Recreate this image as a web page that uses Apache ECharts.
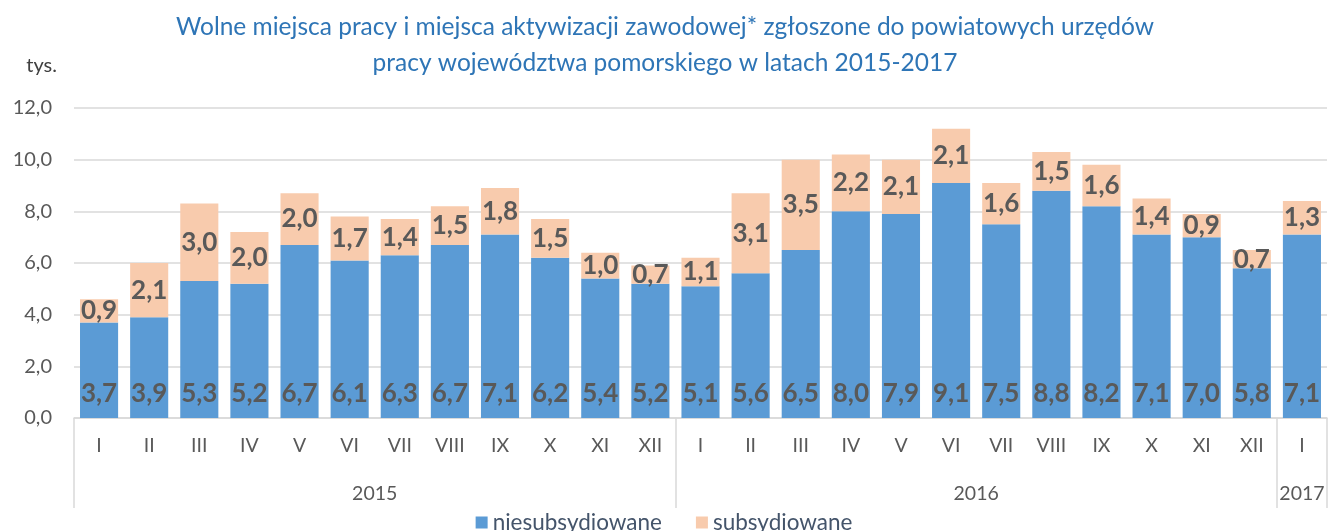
<!DOCTYPE html>
<html>
<head>
<meta charset="utf-8">
<script src="https://cdn.jsdelivr.net/npm/echarts@6/dist/echarts.min.js"></script>
<style>
  html, body { margin: 0; padding: 0; background: #fff; }
  #chart { width: 1328px; height: 531px; }
</style>
</head>
<body>
<div id="chart"></div>
<script>
// months across 2015-2017
const months = ['I','II','III','IV','V','VI','VII','VIII','IX','X','XI','XII',
                'I','II','III','IV','V','VI','VII','VIII','IX','X','XI','XII',
                'I'];
const years = ['2015', '2016', '2017'];
const niesubsydiowane = [3.7,3.9,5.3,5.2,6.7,6.1,6.3,6.7,7.1,6.2,5.4,5.2,
                         5.1,5.6,6.5,8.0,7.9,9.1,7.5,8.8,8.2,7.1,7.0,5.8,
                         7.1];
const subsydiowane = [0.9,2.1,3.0,2.0,2.0,1.7,1.4,1.5,1.8,1.5,1.0,0.7,
                      1.1,3.1,3.5,2.2,2.1,2.1,1.6,1.5,1.6,1.4,0.9,0.7,
                      1.3];
// year blocks: start index and month count
const yearStart = [0, 12, 24];
const yearLen = [12, 12, 1];

const FONT = 'Lato, "Open Sans", sans-serif';
const fmt = v => v.toFixed(1).replace('.', ',');

const chart = echarts.init(document.getElementById('chart'));

const yearCenters = yearStart.map((s, i) => s + yearLen[i] / 2);
const yearBounds = [...yearStart, 25];

const barLabel = (pos, dist) => ({
  show: true,
  position: pos,
  distance: dist,
  color: '#595959',
  fontWeight: 'bold',
  fontSize: 26,
  fontFamily: FONT,
  formatter: p => fmt(p.value)
});

chart.setOption({
  animation: false,
  title: {
    text: 'Wolne miejsca pracy i miejsca aktywizacji zawodowej* zgłoszone do powiatowych urzędów\npracy województwa pomorskiego w latach 2015-2017',
    left: 660,
    textAlign: 'center',
    top: 4,
    textStyle: {
      color: '#2E75B6',
      fontWeight: 'normal',
      fontSize: 24.5,
      lineHeight: 36,
      fontFamily: FONT
    }
  },
  legend: {
    bottom: -8,
    left: 'center',
    itemWidth: 12,
    itemHeight: 12,
    itemGap: 34,
    icon: 'rect',
    textStyle: { color: '#44546A', fontSize: 22.5, fontFamily: FONT },
    data: ['niesubsydiowane', 'subsydiowane']
  },
  grid: { left: 74, right: 1, top: 108, bottom: 113, containLabel: false },
  xAxis: [
    {
      type: 'category',
      data: months,
      position: 'bottom',
      axisLine: { lineStyle: { color: '#D9D9D9', width: 1.5 } },
      axisTick: { show: false },
      axisLabel: { color: '#595959', fontSize: 19.5, fontFamily: FONT, margin: 18, interval: 0 }
    },
    {
      type: 'value',
      min: 0,
      max: 25,
      position: 'bottom',
      axisLine: { show: false },
      splitLine: { show: false },
      axisTick: {
        show: true,
        length: 90,
        customValues: yearBounds,
        lineStyle: { color: '#D9D9D9', width: 1.5 }
      },
      axisLabel: {
        color: '#595959',
        fontSize: 19.5,
        fontFamily: FONT,
        margin: 66,
        customValues: yearCenters,
        formatter: v => years[yearCenters.indexOf(v)] || ''
      }
    }
  ],
  yAxis: {
    type: 'value',
    min: 0,
    max: 12,
    interval: 2,
    name: 'tys.',
    nameLocation: 'end',
    nameGap: 32,
    nameTextStyle: { color: '#404040', fontSize: 20, fontFamily: FONT, align: 'right', padding: [0, 17, 0, 0] },
    axisLine: { show: false },
    axisTick: { show: false },
    splitLine: { lineStyle: { color: '#D9D9D9', width: 1.5 } },
    axisLabel: { color: '#595959', fontSize: 20, fontFamily: FONT, margin: 22, formatter: v => fmt(v) }
  },
  series: [
    {
      name: 'niesubsydiowane',
      type: 'bar',
      stack: 'total',
      xAxisIndex: 0,
      barCategoryGap: '24%',
      data: niesubsydiowane,
      itemStyle: { color: '#5B9BD5' },
      label: barLabel('insideBottom', 11)
    },
    {
      name: 'subsydiowane',
      type: 'bar',
      stack: 'total',
      xAxisIndex: 0,
      data: subsydiowane,
      itemStyle: { color: '#F8CBAD' },
      label: barLabel('inside', 5)
    }
  ]
});
</script>
</body>
</html>
